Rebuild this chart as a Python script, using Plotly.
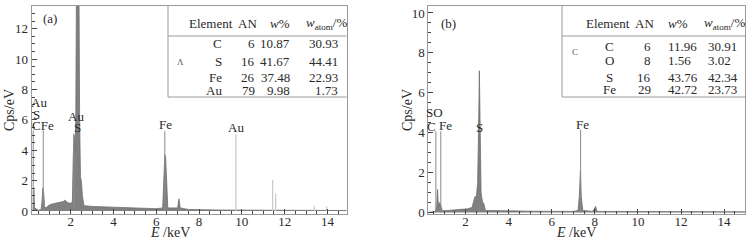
import plotly.graph_objects as go

# ---------------- data ----------------
# Panel (a) spectrum (E keV, Cps/eV)
a_E = [0.20, 0.25, 0.28, 0.31, 0.50, 0.62, 0.66, 0.70, 0.74, 0.78, 0.85, 0.95, 1.10, 1.30, 1.50,
       1.65, 1.75, 1.85, 2.00, 2.08, 2.12, 2.16, 2.20, 2.24, 2.27, 2.39, 2.42, 2.46, 2.50, 2.55,
       2.62, 3.0, 4.0, 5.0, 6.0, 6.30, 6.36, 6.40, 6.44, 6.48, 6.54, 7.0, 7.06, 7.12, 7.5, 9.0, 14.9]
a_C = [0.0, 0.1, 1.4, 0.2, 0.05, 0.1, 0.6, 1.5, 1.2, 0.3, 0.2, 0.35, 0.45, 0.5, 0.55,
       0.62, 0.7, 0.55, 0.5, 0.6, 3.5, 5.0, 4.0, 6.0, 14.5, 14.5, 6.0, 2.2, 2.0, 1.0,
       0.35, 0.3, 0.25, 0.2, 0.15, 0.2, 2.0, 3.7, 3.5, 1.5, 0.2, 0.2, 0.8, 0.2, 0.1, 0.06, 0.03]
# identification lines (a)
a_lineE = [0.25, 0.72, 2.15, 6.40]
a_lineH = [5.3, 5.3, 5.1, 5.26]
a_faintE = [9.72, 11.44, 11.58, 13.38, 13.96]
a_faintH = [5.05, 2.05, 1.15, 0.35, 0.3]
a_labels = ["Au", "S", "CFe", "Au", "S", "Fe", "Au"]
a_labE = [0.53, 0.40, 0.69, 2.25, 2.33, 6.41, 9.71]
a_labY = [7.15, 6.35, 5.6, 6.2, 5.5, 5.7, 5.5]

# Panel (b) spectrum
b_E = [0.27, 0.55, 0.60, 0.66, 0.70, 0.74, 0.80, 0.86, 0.92, 1.0, 1.5, 1.9, 2.1, 2.3, 2.38,
       2.44, 2.50, 2.56, 2.60, 2.64, 2.68, 2.72, 2.78, 2.86, 2.92, 3.5, 5.0, 7.0, 7.22, 7.28,
       7.33, 7.37, 7.44, 7.9, 8.04, 8.10, 14.97]
b_C = [0.0, 0.05, 0.05, 0.3, 1.15, 0.3, 0.5, 0.3, 0.1, 0.08, 0.12, 0.15, 0.18, 0.25, 0.6,
       0.8, 0.75, 1.5, 4.0, 7.1, 4.0, 1.0, 0.55, 0.4, 0.1, 0.08, 0.06, 0.05, 0.1, 0.8,
       2.1, 0.8, 0.1, 0.05, 0.3, 0.05, 0.03]
b_lineE = [0.62, 0.85, 7.34]
b_lineH = [4.07, 4.07, 4.15]
b_labels = ["SO", "C", "Fe", "S", "Fe"]
b_labE = [0.58, 0.42, 1.06, 2.66, 7.44]
b_labY = [5.0, 4.33, 4.35, 4.25, 4.4]

# tables
a_el = ["C", "S", "Fe", "Au"]
a_an = ["6", "16", "26", "79"]
a_w = ["10.87", "41.67", "37.48", "9.98"]
a_wat = ["30.93", "44.41", "22.93", "1.73"]
b_el = ["C", "O", "S", "Fe"]
b_an = ["6", "8", "16", "29"]
b_w = ["11.96", "1.56", "43.76", "42.72"]
b_wat = ["30.91", "3.02", "42.34", "23.73"]

x_ticks = [2, 4, 6, 8, 10, 12, 14]
a_yticks = [0, 2, 4, 6, 8, 10, 12]
b_yticks = [0, 2, 4, 6, 8, 10]

# ---------------- layout helpers ----------------
W, H = 754, 242
MT, MB = 6, 28
FONT = "Liberation Serif, Times New Roman, DejaVu Serif, serif"
TXT = "#2a2a2a"


def px(x):
    return x / W


def py(y):
    return (H - MB - y) / (H - MT - MB)


def vlines(E, Hh):
    xs, ys = [], []
    for e, h in zip(E, Hh):
        xs += [e, e, None]
        ys += [0, h, None]
    return xs, ys


fig = go.Figure()

# panel a
fig.add_trace(go.Scatter(x=a_E, y=a_C, mode="lines", fill="tozeroy",
                         line=dict(color="#6e6e6e", width=0.8), fillcolor="#808080",
                         xaxis="x", yaxis="y", showlegend=False, hoverinfo="skip"))
xs, ys = vlines(a_lineE, a_lineH)
fig.add_trace(go.Scatter(x=xs, y=ys, mode="lines", line=dict(color="#8a8a8a", width=1),
                         xaxis="x", yaxis="y", showlegend=False, hoverinfo="skip"))
xs, ys = vlines(a_faintE, a_faintH)
fig.add_trace(go.Scatter(x=xs, y=ys, mode="lines", line=dict(color="#c8c8c8", width=1.2),
                         xaxis="x", yaxis="y", showlegend=False, hoverinfo="skip"))

# panel b
fig.add_trace(go.Scatter(x=b_E, y=b_C, mode="lines", fill="tozeroy",
                         line=dict(color="#6e6e6e", width=0.8), fillcolor="#808080",
                         xaxis="x2", yaxis="y2", showlegend=False, hoverinfo="skip"))
xs, ys = vlines(b_lineE, b_lineH)
fig.add_trace(go.Scatter(x=xs, y=ys, mode="lines", line=dict(color="#8a8a8a", width=1),
                         xaxis="x2", yaxis="y2", showlegend=False, hoverinfo="skip"))

axis_common = dict(showline=True, linecolor="#9a9a9a", linewidth=1, mirror=True,
                   ticks="inside", ticklen=5, tickcolor="#444", tickwidth=1,
                   showgrid=False, zeroline=False,
                   tickfont=dict(family=FONT, size=13, color=TXT),
                   minor=dict(ticks="inside", ticklen=3, dtick=0.5, tickcolor="#444", showgrid=False))

fig.update_layout(
    width=W, height=H,
    margin=dict(l=0, r=0, t=MT, b=MB),
    paper_bgcolor="white", plot_bgcolor="white",
    xaxis=dict(domain=[px(31.7), px(346.7)], range=[0.18, 14.9], anchor="y",
               tickvals=x_ticks, ticklabelstandoff=-5, **axis_common),
    yaxis=dict(domain=[0, 1], range=[-0.2, 13.5], anchor="x",
               tickvals=a_yticks, **axis_common),
    xaxis2=dict(domain=[px(428.3), px(745)], range=[0.27, 14.97], anchor="y2",
                tickvals=x_ticks, ticklabelstandoff=-5, **axis_common),
    yaxis2=dict(domain=[0, 1], range=[-0.08, 10.35], anchor="x2",
                tickvals=b_yticks, **axis_common),
)

ann = []


def txt(x, y, t, xref="paper", yref="paper", xanchor="center", size=13, color=TXT, **kw):
    return dict(x=x, y=y, xref=xref, yref=yref, text=t, showarrow=False,
                xanchor=xanchor, yanchor="middle",
                font=dict(family=FONT, size=size, color=color), **kw)


# peak labels
for t, e, y in zip(a_labels, a_labE, a_labY):
    ann.append(txt(e, y, t, xref="x", yref="y"))
for t, e, y in zip(b_labels, b_labE, b_labY):
    ann.append(txt(e, y, t, xref="x2", yref="y2"))

# panel tags
ann.append(txt(px(50), py(18.5), "(a)"))
ann.append(txt(px(449), py(23), "(b)"))

# axis titles
for xc, yc in [(9, 110), (407, 110)]:
    ann.append(txt(px(xc), py(yc), "Cps/eV", size=14, textangle=-90))
for xc in [170, 576]:
    ann.append(txt(px(xc), py(233), "<i>E</i> /keV", size=14))

watom = "<i>w</i><sub>atom</sub>/%"


def table(cols_hdr, rows, el, an, w, wat, el_x, an_x, w_x, w_anchor, wat_x, wat_anchor,
          tag, tag_xy):
    out = []
    hy = 23
    for t, xc in zip(["Element", "AN", "<i>w</i>%", watom], cols_hdr):
        out.append(txt(px(xc), py(hy), t))
    for i, ry in enumerate(rows):
        out.append(txt(px(el_x[0]), py(ry), el[i], xanchor=el_x[1]))
        out.append(txt(px(an_x), py(ry), an[i], xanchor="right"))
        out.append(txt(px(w_x), py(ry), w[i], xanchor=w_anchor))
        out.append(txt(px(wat_x), py(ry), wat[i], xanchor=wat_anchor))
    out.append(txt(px(tag_xy[0]), py(tag_xy[1]), tag, size=9, color="#555"))
    return out


ann += table([211, 247, 280, 326], [43.3, 61.7, 77.3, 90.7], a_el, a_an, a_w, a_wat,
             (224, "right"), 257, 292, "right", 340, "right", "Λ", (180, 61.5))
ann += table([608, 644, 678, 724], [47, 61, 77, 89], b_el, b_an, b_w, b_wat,
             (609, "center"), 653, 666, "left", 706, "left", "C", (575, 52))

shapes = []
for (xl, xr) in [(168, 346.7), (562, 745)]:
    shapes.append(dict(type="line", xref="paper", yref="paper", x0=px(xl), x1=px(xl),
                       y0=py(6), y1=py(97), line=dict(color="#9a9a9a", width=1)))
    shapes.append(dict(type="line", xref="paper", yref="paper", x0=px(xl), x1=px(xr),
                       y0=py(36), y1=py(36), line=dict(color="#9a9a9a", width=1)))
    shapes.append(dict(type="line", xref="paper", yref="paper", x0=px(xl), x1=px(xr),
                       y0=py(97), y1=py(97), line=dict(color="#9a9a9a", width=1)))

fig.update_layout(annotations=ann, shapes=shapes)
fig.write_html("out.html", config={"displayModeBar": False},
               post_script="document.body.style.margin='0';")
